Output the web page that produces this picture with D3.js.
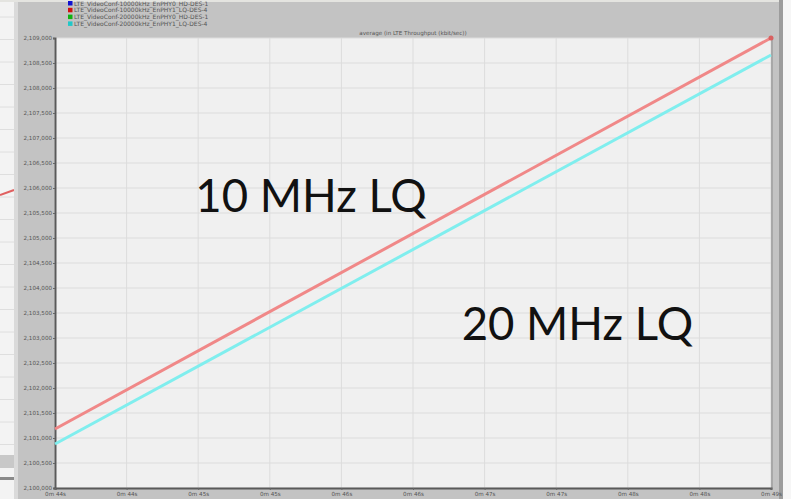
<!DOCTYPE html>
<html>
<head>
<meta charset="utf-8">
<script src="https://cdn.jsdelivr.net/npm/d3@7"></script>
<style>
  body { margin: 0; background: #f4f4f4; }
  svg { display: block; }
  .tick text { font-family: "DejaVu Sans", sans-serif; }
</style>
</head>
<body>
<svg id="chart" width="791" height="499"></svg>
<script>
// seconds on the x axis, kbit/s on the y axis
const times = [44.0, 49.0];
const series10 = [2101180, 2109000];   // 10 MHz LQ (red)
const series20 = [2100880, 2108660];   // 20 MHz LQ (cyan)
const yTicks = d3.range(2100000, 2109001, 500);
const xTicks = d3.range(44, 49.01, 0.5);
const legendNames = [
    'LTE_VideoConf-10000kHz_EnPHY0_HD-DES-1',
    'LTE_VideoConf-10000kHz_EnPHY1_LQ-DES-4',
    'LTE_VideoConf-20000kHz_EnPHY0_HD-DES-1',
    'LTE_VideoConf-20000kHz_EnPHY1_LQ-DES-4'
];
const legendColors = ['#1010d0', '#d01010', '#10b010', '#20c8c8'];
const annotations = [
    { text: '10 MHz LQ', t: 44.98, v: 2105520 },
    { text: '20 MHz LQ', t: 46.84, v: 2102960 }
];

let config = {
    left: 55,
    right: 771,
    top: 38,
    bottom: 488,
    panel: '#c3c3c3',
    plotBg: '#f0f0f0',
    grid: '#dcdcdc',
}

const svg = d3.select('#chart');

// window behind on the left
const side = svg.append('g');
side.append('rect').attr('x', 0).attr('y', 0).attr('width', 15).attr('height', 499).attr('fill', '#f3f3f3');
d3.range(17, 450, 22.5).forEach(function(yy) {
    side.append('line').attr('x1', 0).attr('x2', 14).attr('y1', yy).attr('y2', yy)
        .attr('stroke', '#dedede').attr('stroke-width', 1);
});
side.append('line').attr('x1', 0).attr('x2', 14).attr('y1', 195).attr('y2', 190)
    .attr('stroke', '#e06060').attr('stroke-width', 2);
side.append('rect').attr('x', 0).attr('y', 455).attr('width', 15).attr('height', 13).attr('fill', '#c8c8c8');
side.append('rect').attr('x', 0).attr('y', 477).attr('width', 15).attr('height', 3).attr('fill', '#8a8a8a');
side.append('rect').attr('x', 14).attr('y', 0).attr('width', 4).attr('height', 499).attr('fill', '#dadada');

// gray panel
svg.append('rect').attr('x', 18).attr('y', 2).attr('width', 761).attr('height', 497).attr('fill', config.panel);
svg.append('rect').attr('x', 779).attr('y', 0).attr('width', 4).attr('height', 499).attr('fill', '#9c9c9c');
svg.append('rect').attr('x', 783).attr('y', 0).attr('width', 8).attr('height', 499).attr('fill', '#f6f6f6');
svg.append('rect').attr('x', 0).attr('y', 0).attr('width', 779).attr('height', 2).attr('fill', '#e4e4e0');

const x = d3.scaleLinear().domain([44, 49]).range([config.left, config.right]);
const y = d3.scaleLinear().domain([2100000, 2109000]).range([config.bottom, config.top]);

// plot area
svg.append('rect')
    .attr('x', config.left).attr('y', config.top)
    .attr('width', config.right - config.left).attr('height', config.bottom - config.top)
    .attr('fill', config.plotBg);

const grid = svg.append('g');
grid.selectAll('line.h').data(yTicks).enter().append('line')
    .attr('x1', config.left).attr('x2', config.right)
    .attr('y1', d => y(d)).attr('y2', d => y(d))
    .attr('stroke', config.grid).attr('stroke-width', 1);
grid.selectAll('line.v').data(xTicks).enter().append('line')
    .attr('y1', config.top).attr('y2', config.bottom)
    .attr('x1', d => x(d)).attr('x2', d => x(d))
    .attr('stroke', config.grid).attr('stroke-width', 1);

// plot frame shadow on the right
svg.append('line').attr('x1', config.right + 1).attr('x2', config.right + 1)
    .attr('y1', config.top).attr('y2', config.bottom + 1)
    .attr('stroke', '#a8a8a8').attr('stroke-width', 2);

// axes
const yAxis = d3.axisLeft(y).tickValues(yTicks).tickSize(2).tickPadding(1).tickFormat(d3.format(','));
const gy = svg.append('g').attr('transform', 'translate(' + config.left + ',0)').call(yAxis);
gy.select('.domain').attr('stroke', '#5a5a5a').attr('stroke-width', 2);
gy.selectAll('.tick line').attr('stroke', '#666');
gy.selectAll('.tick text').attr('font-size', 5.6).attr('fill', '#555');

const xAxis = d3.axisBottom(x).tickValues(xTicks).tickSize(2).tickPadding(2)
    .tickFormat(d => '0m ' + Math.floor(d) + 's');
const gx = svg.append('g').attr('transform', 'translate(0,' + config.bottom + ')').call(xAxis);
gx.select('.domain').attr('stroke', '#5a5a5a').attr('stroke-width', 2);
gx.selectAll('.tick line').attr('stroke', '#666');
gx.selectAll('.tick text').attr('font-size', 5.6).attr('fill', '#555');

// title
svg.append('text')
    .attr('x', 413).attr('y', 35)
    .attr('text-anchor', 'middle')
    .attr('font-family', 'DejaVu Sans, sans-serif')
    .attr('font-size', 5.6).attr('fill', '#555')
    .text('average (in LTE Throughput (kbit/sec))');

// legend
const leg = svg.append('g').attr('transform', 'translate(68,1)');
leg.selectAll('g.row').data(legendNames).enter().append('g')
    .classed('row', true)
    .attr('transform', (d, i) => 'translate(0,' + (i * 6.8) + ')')
    .each(function(d, i) {
        d3.select(this).append('rect').attr('width', 4.5).attr('height', 4.5).attr('fill', legendColors[i]);
        d3.select(this).append('text').attr('x', 6).attr('y', 4.5)
            .attr('font-family', 'DejaVu Sans, sans-serif')
            .attr('font-size', 6).attr('fill', '#555').text(d);
    });

// curves
const line = d3.line().x((d, i) => x(times[i])).y(d => y(d));
const curves = svg.append('g');
curves.append('path').datum(series20).attr('d', line)
    .attr('fill', 'none').attr('stroke', '#80eeee').attr('stroke-width', 3);
curves.append('path').datum(series10).attr('d', line)
    .attr('fill', 'none').attr('stroke', '#f08888').attr('stroke-width', 3);
curves.append('circle')
    .attr('cx', x(times[1])).attr('cy', y(series10[1])).attr('r', 2.5)
    .attr('fill', '#d86060');

// big labels
svg.selectAll('text.note').data(annotations).enter().append('text')
    .classed('note', true)
    .attr('x', d => x(d.t)).attr('y', d => y(d.v))
    .attr('font-family', 'Lato, "Open Sans", sans-serif')
    .attr('font-size', 45.5)
    .attr('fill', '#111')
    .text(d => d.text);
</script>
</body>
</html>
